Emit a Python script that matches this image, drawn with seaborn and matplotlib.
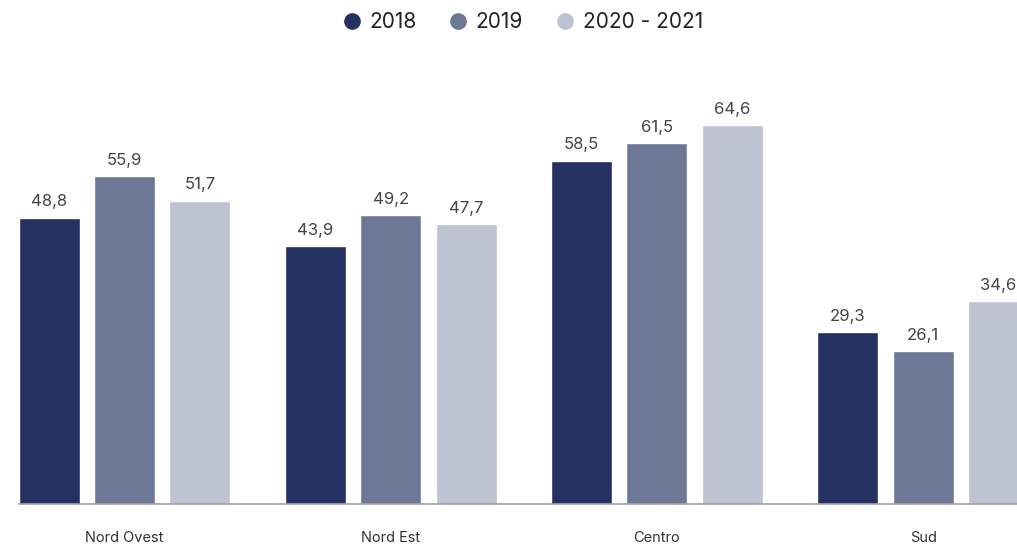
import matplotlib
matplotlib.use("Agg")
import matplotlib.pyplot as plt
from matplotlib.lines import Line2D
import seaborn as sns
import pandas as pd

# Regional values by period
regions = ["Nord Ovest", "Nord Est", "Centro", "Sud"]
periods = ["2018", "2019", "2020 - 2021"]
values_2018 = [48.8, 43.9, 58.5, 29.3]
values_2019 = [55.9, 49.2, 61.5, 26.1]
values_2020_2021 = [51.7, 47.7, 64.6, 34.6]
colors = ["#253063", "#6d7896", "#bdc3d1"]

df = pd.DataFrame({
    "region": regions * 3,
    "period": [p for p in periods for _ in regions],
    "value": values_2018 + values_2019 + values_2020_2021,
})

sns.set_theme(style="white")
plt.rcParams["font.family"] = ["Inter", "DejaVu Sans"]

fig = plt.figure(figsize=(10.17, 5.44), dpi=100)
ax = fig.add_axes([0.0, 40 / 544, 1.0, 424 / 544])

sns.barplot(data=df, x="region", y="value", hue="period", order=regions,
            hue_order=periods, palette=colors, width=0.85, gap=0.19,
            saturation=1, legend=False, ax=ax)

for container in ax.containers:
    labels = [f"{v:.1f}".replace(".", ",") for v in container.datavalues]
    ax.bar_label(container, labels=labels, padding=6, fontsize=12,
                 color="#444444")

unit = 266.2
x_left = -124.5 / unit
x_right = (1017 - 124.5) / unit
ax.set_xlim(x_left, x_right)
ax.set_ylim(0, 72.27)
ax.set_xlabel("")
ax.set_ylabel("")
ax.set_yticks([])
ax.tick_params(axis="x", length=0, pad=19.5, labelsize=10.5, labelcolor="#333333")
for side in ["top", "right", "left"]:
    ax.spines[side].set_visible(False)
ax.spines["bottom"].set_color("#a0a0a0")
ax.spines["bottom"].set_linewidth(1.2)
ax.spines["bottom"].set_bounds((19 - 124.5) / unit, x_right)

handles = [Line2D([], [], marker="o", linestyle="none", markersize=11,
                  markerfacecolor=c, markeredgecolor=c) for c in colors]
fig.legend(handles, periods, loc="center", bbox_to_anchor=(523 / 1017, 1 - 22 / 544),
           ncol=3, frameon=False, fontsize=15, handlelength=0.8,
           handletextpad=0.45, columnspacing=1.6, labelcolor="#222222")

fig.savefig("out.png", dpi=100)
